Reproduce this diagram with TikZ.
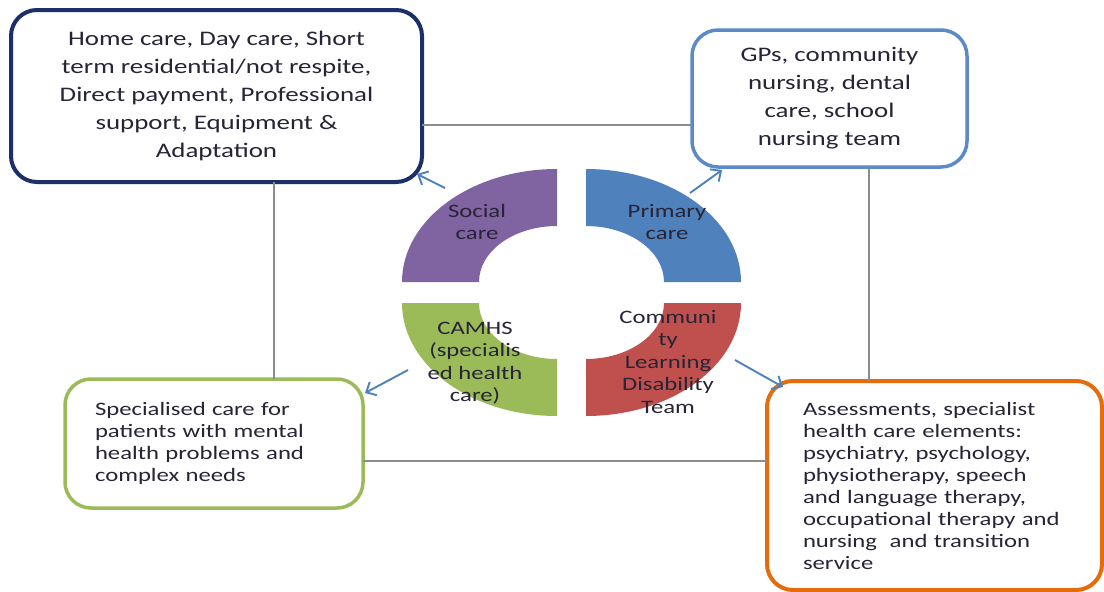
\documentclass[tikz,border=0pt]{standalone}
\usepackage{fontspec}
\setmainfont{Carlito}[FakeStretch=1.3]
\usetikzlibrary{arrows.meta,calc}
\definecolor{navy}{HTML}{1C2F68}
\definecolor{boxblue}{HTML}{5B8AC6}
\definecolor{boxgreen}{HTML}{9BBB59}
\definecolor{boxorange}{HTML}{E46C0A}
\definecolor{qpurple}{HTML}{8064A2}
\definecolor{qblue}{HTML}{4F81BD}
\definecolor{qgreen}{HTML}{9BBB59}
\definecolor{qred}{HTML}{C0504D}
\definecolor{txt}{HTML}{262436}
\definecolor{linegray}{HTML}{8C8C8C}
\definecolor{arrowblue}{HTML}{4F81BD}
\begin{document}
\begin{tikzpicture}[x=1pt,y=-1pt,
  box/.style={draw, line width=3.5pt, rounded corners=26pt, fill=white, text=txt, outer sep=0pt, inner sep=0pt},
  topfont/.style={font=\fontsize{20.7}{28}\selectfont},
  lowfont/.style={font=\fontsize{19}{22}\selectfont},
  qlabel/.style={text=txt, align=center, font=\fontsize{19}{22.5}\selectfont},
  grayline/.style={draw=linegray, line width=1.6pt},
  flow/.style={draw=arrowblue, line width=1.9pt, -{Straight Barb[length=8pt,width=15pt,line width=1.9pt]}}
]
\fill[white] (0,0) rectangle (1104,592);
\useasboundingbox (0,0) rectangle (1104,592);

% helper coordinates for the gray frame
\coordinate (ty) at (0,125);
\coordinate (by) at (0,461);
\coordinate (lx) at (274,0);
\coordinate (rx) at (869,0);

% boxes
\node[box, draw=navy, line width=4pt, topfont, align=center, minimum width=411, minimum height=172] (sc) at (216.5,96)
  {Home care, Day care, Short\\term residential/not respite,\\Direct payment, Professional\\support, Equipment \&\\Adaptation};
\node[box, draw=boxblue, topfont, align=center, minimum width=275, minimum height=137] (pc) at (829.5,98.5)
  {GPs, community\\nursing, dental\\care, school\\nursing team};
\node[box, draw=boxgreen, lowfont, align=left, text width=238, inner xsep=30, minimum width=298, minimum height=129] (sl) at (214,443.5)
  {Specialised care for\\patients with mental\\health problems and\\complex needs};
\node[box, draw=boxorange, line width=4pt, lowfont, align=left, text width=263, inner xsep=36, minimum width=335, minimum height=209] (ct) at (934.5,485.5)
  {Assessments, specialist\\health care elements:\\psychiatry, psychology,\\physiotherapy, speech\\and language therapy,\\occupational therapy and\\nursing\ \ and transition\\service};

% gray frame lines
\draw[grayline] (sc.east |- ty) -- (pc.west |- ty);
\draw[grayline] (sc.south -| lx) -- (sl.north -| lx);
\draw[grayline] (pc.south -| rx) -- (ct.north -| rx);
\draw[grayline] (sl.east |- by) -- (ct.west |- by);

% ring quadrants
\fill[qpurple] (402,282) arc[start angle=180, end angle=90, x radius=155pt, y radius=113pt]
  -- (557,226) arc[start angle=90, end angle=180, x radius=78pt, y radius=56pt] -- cycle;
\fill[qblue] (586,169) arc[start angle=90, end angle=0, x radius=155pt, y radius=113pt]
  -- (664,282) arc[start angle=0, end angle=90, x radius=78pt, y radius=56pt] -- cycle;
\fill[qgreen] (402,303) arc[start angle=180, end angle=270, x radius=155pt, y radius=113pt]
  -- (557,359) arc[start angle=270, end angle=180, x radius=78pt, y radius=56pt] -- cycle;
\fill[qred] (741,303) arc[start angle=0, end angle=-90, x radius=155pt, y radius=113pt]
  -- (586,359) arc[start angle=-90, end angle=0, x radius=78pt, y radius=56pt] -- cycle;

% ring labels
\node[qlabel] (qs) at (477,222) {Social\\care};
\node[qlabel] (qp) at (667,222) {Primary\\care};
\node[qlabel] (qc) at (475,363) {CAMHS\\(specialis\\ed health\\care)};
\node[qlabel] (qr) at (668,362) {Communi\\ty\\Learning\\Disability\\Team};

% arrows
\coordinate (a1) at (445,188);
\coordinate (a2) at (690,193);
\coordinate (a3) at (408,370);
\coordinate (a4) at (735,360);
\draw[flow] (a1) -- ($(sc.south east)+(-5,-8)$);
\draw[flow] (a2) -- ($(pc.south west)+(30,3)$);
\draw[flow] (a3) -- ($(sl.north east)+(2,14)$);
\draw[flow] (a4) -- ($(ct.north west)+(16,6)$);
\end{tikzpicture}
\end{document}
